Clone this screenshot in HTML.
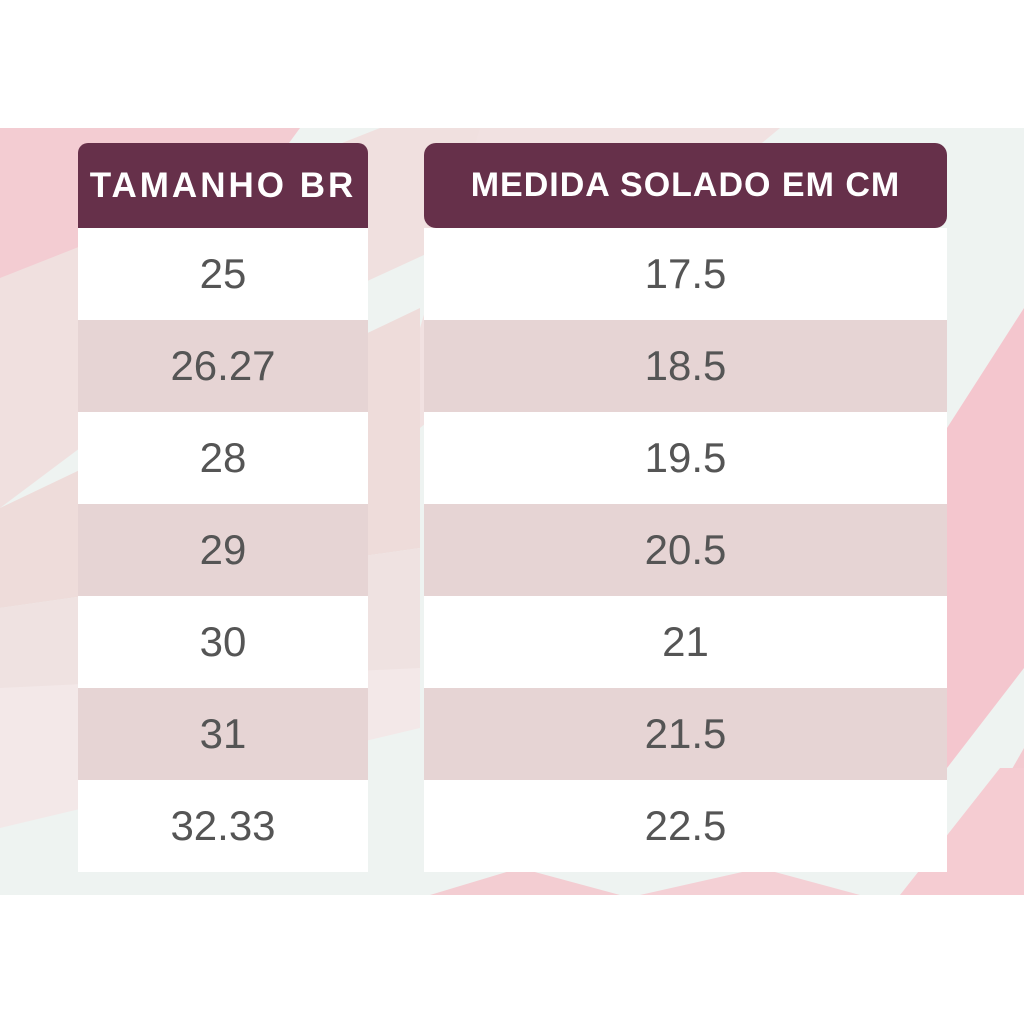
<!DOCTYPE html>
<html><head><style>
body{margin:0;width:1024px;height:1024px;background:#fff;position:relative;overflow:hidden;font-family:"Liberation Sans",sans-serif}
.bg{position:absolute;left:0;top:128px;width:1024px;height:767px;overflow:hidden;background:#eef3f1}
.t{position:absolute;}
.h{background:#66304a;color:#fff;font-weight:bold;display:flex;align-items:center;justify-content:center;font-size:35px;letter-spacing:3px}
.r{height:92px;display:flex;align-items:center;justify-content:center;font-size:42px;color:#555}
.w{background:#fff}.p{background:#e6d4d4}
</style></head><body>
<div class="bg">
<svg width="1024" height="767">
<polygon points="0,0 300,0 80,300 0,330" fill="#f3ccd2"/>
<polygon points="0,150 380,0 700,0 200,230 0,380" fill="#f0e0df"/>
<polygon points="0,380 420,180 420,420 0,480" fill="#eedcda"/>
<polygon points="0,480 420,420 420,560 0,560" fill="#efe2e1"/>
<polygon points="0,560 420,540 420,600 0,700" fill="#f3e8e8"/>
<polygon points="480,0 780,0 420,300 420,200" fill="#f1e1e1"/>
<polygon points="1024,180 1024,540 947,640 947,300" fill="#f4c6ce"/>
<polygon points="1024,620 1024,767 940,767" fill="#f3cad0"/>
<polygon points="430,767 520,740 620,767" fill="#f3cdd2"/>
<polygon points="640,767 760,740 860,767" fill="#f4d0d5"/>
<polygon points="900,767 1000,640 1024,640 1024,767" fill="#f5ccd2"/>
</svg>
</div>
<div class="t" style="left:78px;top:143px;width:290px">
<div class="h" style="height:85px;border-radius:10px 10px 0 0">TAMANHO BR</div>
<div class="r w">25</div><div class="r p">26.27</div><div class="r w">28</div><div class="r p">29</div><div class="r w">30</div><div class="r p">31</div><div class="r w">32.33</div>
</div>
<div class="t" style="left:424px;top:143px;width:523px">
<div class="h" style="height:85px;border-radius:12px;font-size:34px;letter-spacing:1px">MEDIDA SOLADO EM CM</div>
<div class="r w">17.5</div><div class="r p">18.5</div><div class="r w">19.5</div><div class="r p">20.5</div><div class="r w">21</div><div class="r p">21.5</div><div class="r w">22.5</div>
</div>
</body></html>
